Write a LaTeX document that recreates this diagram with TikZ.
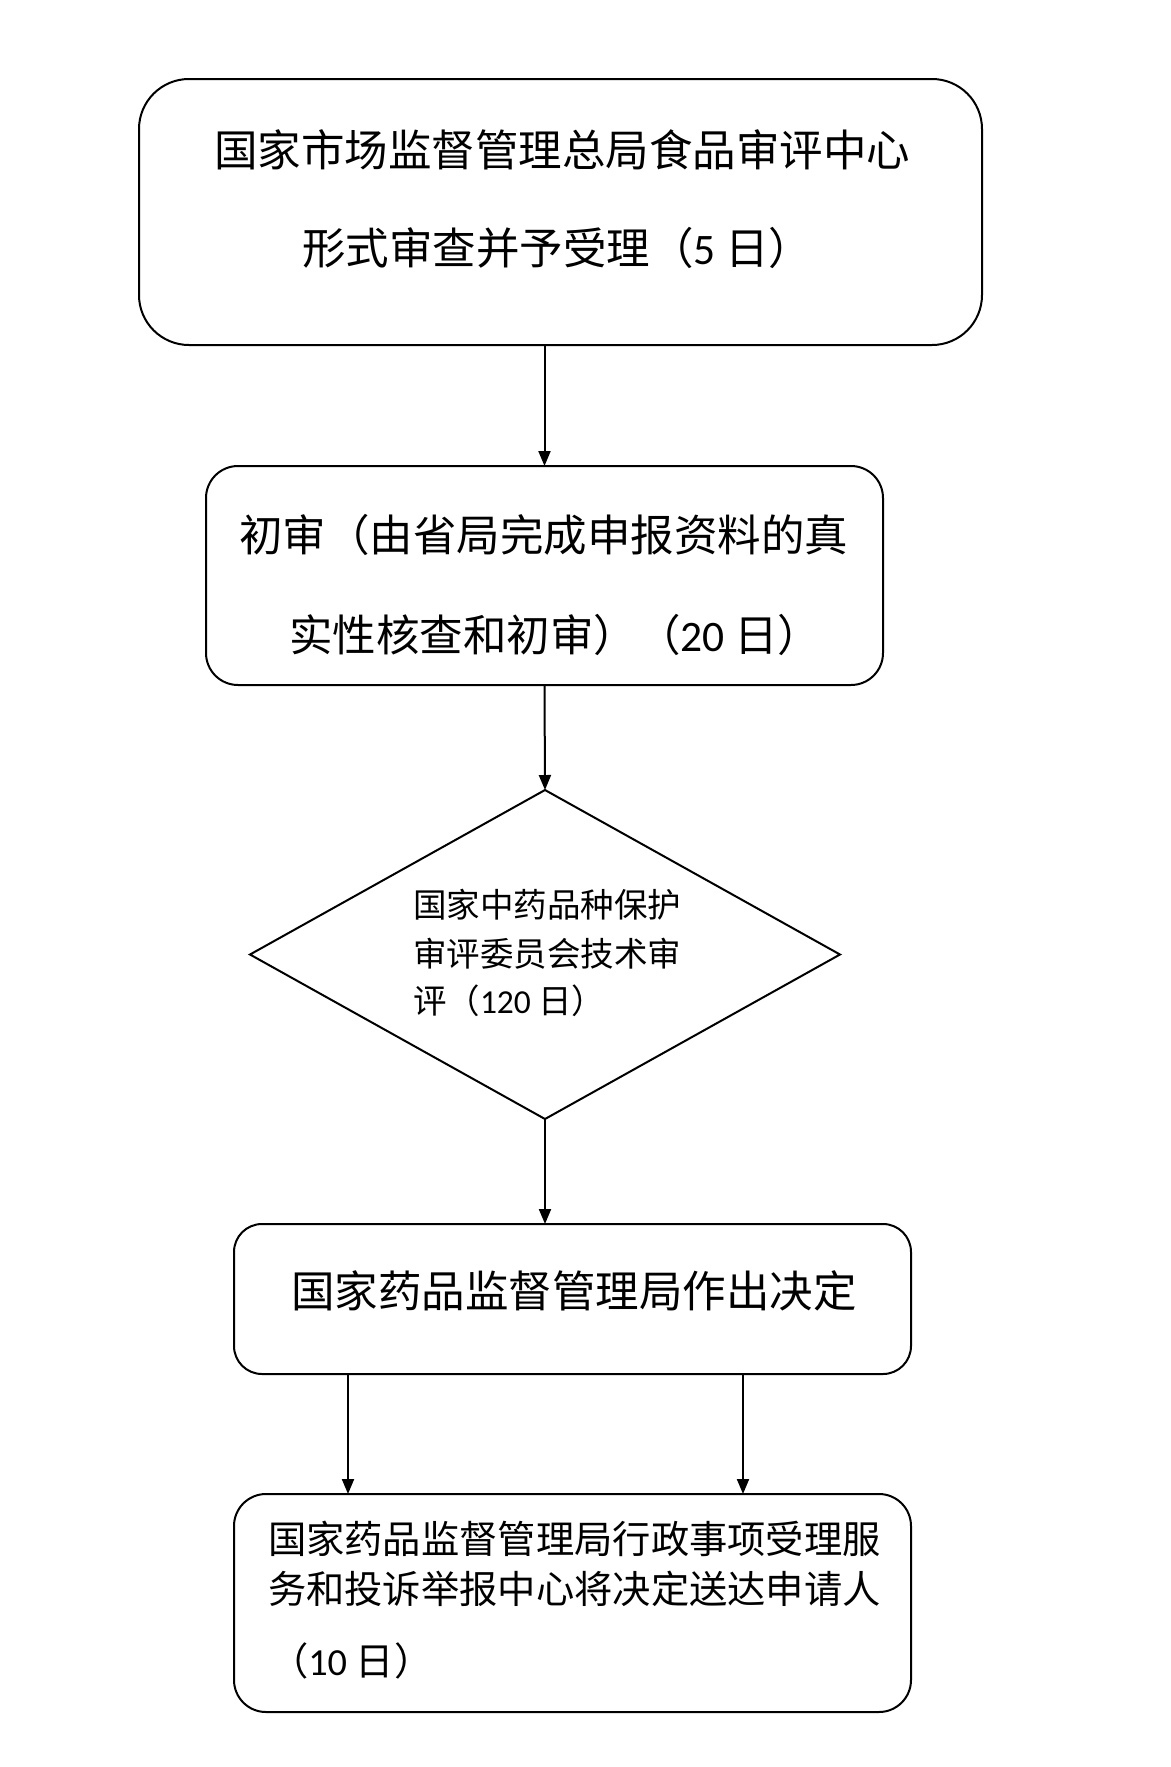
\documentclass[tikz,border=0pt]{standalone}
\usepackage{fontspec}
\setmainfont{Carlito}
\newfontfamily\cjk{Noto Sans CJK SC}
\newfontfamily\latf{Carlito}
\usetikzlibrary{arrows.meta,shapes.geometric}
\tikzset{
  box/.style={draw=black, line width=2pt, fill=white, inner sep=0pt, outer sep=0pt},
  txt/.style={inner sep=0pt, outer sep=0pt, anchor=west, font=\cjk\fontsize{43.5}{52}\selectfont},
  dtxt/.style={inner sep=0pt, outer sep=0pt, anchor=west, font=\cjk\fontsize{33.5}{40}\selectfont},
  ftxt/.style={inner sep=0pt, outer sep=0pt, anchor=west, font=\cjk\fontsize{38.3}{46}\selectfont},
  arr/.style={line width=2pt, -{Triangle[length=15pt,width=12pt]}}
}
\begin{document}
\begin{tikzpicture}[x=1pt,y=-1pt]
\useasboundingbox (0,0) rectangle (1170,1767);
\fill[white] (0,0) rectangle (1170,1767);

\node[box, rounded corners=50pt, minimum width=843pt, minimum height=266pt] (b1) at (560.5,212) {};
\node[box, rounded corners=32pt, minimum width=677pt, minimum height=219pt] (b2) at (544.5,575.5) {};
\node[box, diamond, minimum width=590pt, minimum height=329pt] (d) at (545,954.5) {};
\node[box, rounded corners=28pt, minimum width=677pt, minimum height=150pt] (b4) at (572.5,1299) {};
\node[box, rounded corners=32pt, minimum width=677pt, minimum height=218pt] (b5) at (572.5,1603) {};

\node[txt] (t11) at (214,150) {国家市场监督管理总局食品审评中心};
\node[txt] (t12) at (302,248) {形式审查并予受理（{\latf 5} 日）};
\node[txt] (t21) at (239,535) {初审（由省局完成申报资料的真};
\node[txt] (t22) at (289,635) {实性核查和初审）（{\latf 20} 日）};
\node[dtxt] (t31) at (413,905) {国家中药品种保护};
\node[dtxt] (t32) at (413,954) {审评委员会技术审};
\node[dtxt] (t33) at (413,1001) {评（{\latf 120} 日）};
\node[txt] (t41) at (291,1291) {国家药品监督管理局作出决定};
\node[ftxt] (t51) at (268,1539) {国家药品监督管理局行政事项受理服};
\node[ftxt] (t52) at (268,1589) {务和投诉举报中心将决定送达申请人};
\node[ftxt] (t53) at (270,1661) {（{\latf 10} 日）};

\coordinate (cl) at (348,0);
\coordinate (cr) at (743,0);
\draw[arr] (b1.south -| b2.north) -- (b2.north);
\draw[arr] (b2.south) -- (d.north);
\draw[arr] (d.south) -- (d.south |- b4.north);
\draw[arr] (b4.south -| cl) -- (b5.north -| cl);
\draw[arr] (b4.south -| cr) -- (b5.north -| cr);
\end{tikzpicture}
\end{document}
